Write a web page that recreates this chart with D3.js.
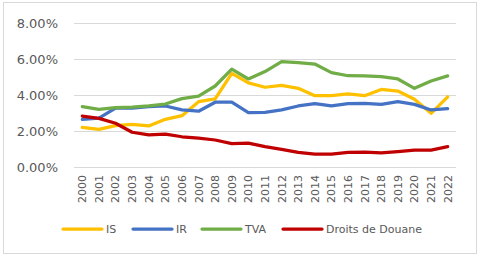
<!DOCTYPE html>
<html>
<head>
<meta charset="utf-8">
<script src="https://cdn.jsdelivr.net/npm/d3@7"></script>
<style>
  body { margin: 0; background: #fff; }
  svg { display: block; font-family: "DejaVu Sans", sans-serif; }
</style>
</head>
<body>
<svg width="480" height="257"></svg>
<script>
// years on the x axis
var years = ["2000","2001","2002","2003","2004","2005","2006","2007","2008","2009","2010",
  "2011","2012","2013","2014","2015","2016","2017","2018","2019","2020","2021","2022"];

// values in %
var IS = [2.2, 2.09, 2.3, 2.37, 2.28, 2.65, 2.85, 3.63, 3.78, 5.2, 4.67,
  4.43, 4.54, 4.37, 3.96, 3.96, 4.06, 3.96, 4.31, 4.22, 3.76, 2.98, 3.9];
var IR = [2.65, 2.72, 3.27, 3.27, 3.35, 3.39, 3.17, 3.1, 3.6, 3.6, 3.02,
  3.04, 3.17, 3.39, 3.52, 3.39, 3.52, 3.54, 3.48, 3.63, 3.48, 3.17, 3.24];
var TVA = [3.35, 3.2, 3.3, 3.33, 3.39, 3.5, 3.8, 3.94, 4.5, 5.44, 4.89,
  5.3, 5.85, 5.8, 5.72, 5.24, 5.07, 5.06, 5.02, 4.89, 4.37, 4.78, 5.06];
var douane = [2.83, 2.7, 2.43, 1.93, 1.78, 1.83, 1.68, 1.6, 1.5, 1.3, 1.33,
  1.13, 0.98, 0.81, 0.72, 0.72, 0.81, 0.83, 0.78, 0.85, 0.94, 0.94, 1.13];

var yTicks = [0, 2, 4, 6, 8];

var series = [
  {name: "IS", values: IS, color: "#FFC000"},
  {name: "IR", values: IR, color: "#4472C4"},
  {name: "TVA", values: TVA, color: "#70AD47"},
  {name: "Droits de Douane", values: douane, color: "#C00000"}
];

var svg = d3.select("svg");

// chart border
svg.append("rect")
  .attr("x", 3.5).attr("y", 2.5)
  .attr("width", 473).attr("height", 251)
  .attr("fill", "none")
  .attr("stroke", "#d9d9d9");

var x = d3.scalePoint()
  .domain(years)
  .range([74, 456])
  .padding(0.5);

var y = d3.scaleLinear()
  .domain([0, 8])
  .range([167, 23]);

// gridlines
svg.append("g")
  .selectAll("line")
  .data(yTicks)
  .enter().append("line")
    .attr("x1", 74).attr("x2", 456)
    .attr("y1", function(d) { return Math.round(y(d)) + 0.5; })
    .attr("y2", function(d) { return Math.round(y(d)) + 0.5; })
    .attr("stroke", "#d9d9d9")
    .attr("stroke-width", 1);

// y labels
svg.append("g")
  .selectAll("text")
  .data(yTicks)
  .enter().append("text")
    .attr("x", 58)
    .attr("y", function(d) { return y(d); })
    .attr("dy", "0.36em")
    .attr("text-anchor", "end")
    .attr("font-size", "13px")
    .attr("fill", "#595959")
    .text(function(d) { return d3.format(".2f")(d) + "%"; });

// x labels, rotated
svg.append("g")
  .selectAll("text")
  .data(years)
  .enter().append("text")
    .attr("transform", function(d) { return "translate(" + x(d) + ",175) rotate(-90)"; })
    .attr("dy", "0.36em")
    .attr("text-anchor", "end")
    .attr("font-size", "11px")
    .attr("fill", "#595959")
    .text(function(d) { return d; });

var line = d3.line()
  .x(function(d, i) { return x(years[i]); })
  .y(function(d) { return y(d); });

svg.append("g")
  .selectAll("path")
  .data(series)
  .enter().append("path")
    .attr("d", function(d) { return line(d.values); })
    .attr("fill", "none")
    .attr("stroke", function(d) { return d.color; })
    .attr("stroke-width", 3.25)
    .attr("stroke-linejoin", "round")
    .attr("stroke-linecap", "round");

// legend
var legendX = [63, 133, 202, 283];
var legend = svg.append("g")
  .selectAll("g")
  .data(series)
  .enter().append("g")
    .attr("transform", function(d, i) { return "translate(" + legendX[i] + ",229)"; });

legend.append("line")
  .attr("x1", 0).attr("x2", 39)
  .attr("stroke", function(d) { return d.color; })
  .attr("stroke-width", 3.25)
  .attr("stroke-linecap", "round");

legend.append("text")
  .attr("x", 43)
  .attr("dy", "0.36em")
  .attr("font-size", "11px")
  .attr("fill", "#595959")
  .text(function(d) { return d.name; });
</script>
</body>
</html>
